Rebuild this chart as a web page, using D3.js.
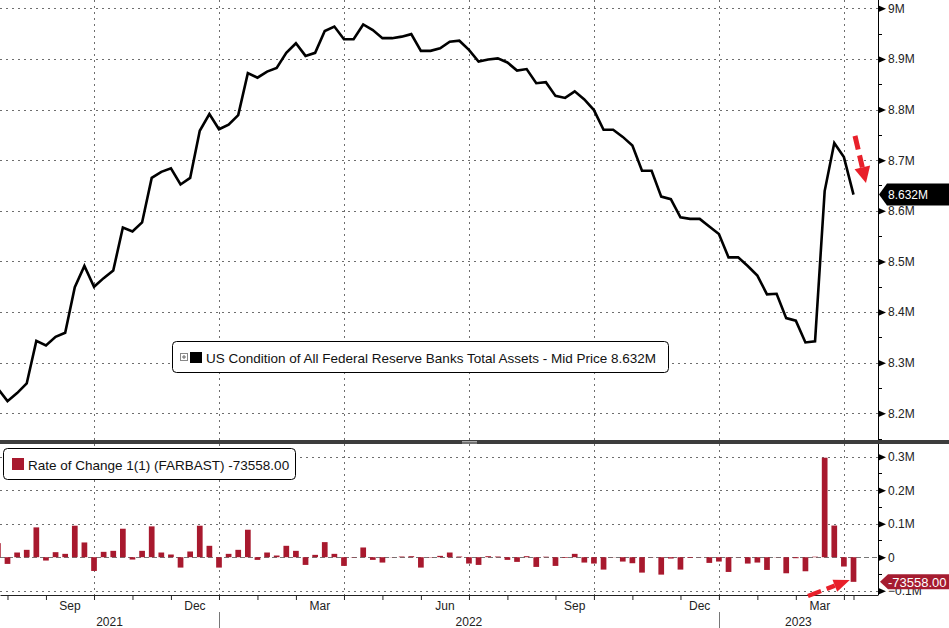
<!DOCTYPE html>
<html>
<head>
<meta charset="utf-8">
<script src="https://cdn.jsdelivr.net/npm/d3@7"></script>
<style>
  body { margin: 0; background: #fff; }
  svg { display: block; font-family: "Liberation Sans", Arial, sans-serif; }
</style>
</head>
<body>
<div id="chart"></div>
<script>
// weekly H.4.1 prints (Wednesdays), Jul 21 2021 .. Apr 5 2023
var firstWeek = new Date(2021, 6, 21), lastWeek = new Date(2023, 3, 5);

// total assets, millions of millions (M)
var assets = [8.249, 8.224, 8.240, 8.259, 8.343, 8.334, 8.351, 8.359, 8.449, 8.491,
  8.450, 8.467, 8.482, 8.567, 8.559, 8.577, 8.665, 8.677, 8.684, 8.652,
  8.665, 8.758, 8.791, 8.761, 8.770, 8.789, 8.872, 8.863, 8.875, 8.882,
  8.912, 8.931, 8.906, 8.912, 8.955, 8.964, 8.939, 8.939, 8.968, 8.957,
  8.941, 8.941, 8.944, 8.949, 8.916, 8.916, 8.921, 8.934, 8.936, 8.918,
  8.895, 8.899, 8.901, 8.893, 8.877, 8.880, 8.852, 8.854, 8.827, 8.823,
  8.836, 8.820, 8.799, 8.760, 8.760, 8.746, 8.729, 8.679, 8.679, 8.628,
  8.623, 8.587, 8.584, 8.584, 8.569, 8.554, 8.508, 8.508, 8.491, 8.472,
  8.435, 8.436, 8.388, 8.383, 8.340, 8.342, 8.639, 8.734, 8.706, 8.632];

// Rate of Change 1(1), week over week
var changes = [42000, -20000, 14000, 22000, 89000, -10000, 15000, 10000, 94000, 44000,
  -41000, 16000, 19000, 85000, -7000, 19000, 92000, 14000, 8000, -31000,
  17000, 94000, 34000, -31000, 10000, 22000, 82000, -8000, 14000, 5000,
  34000, 19000, -23000, 7000, 45000, 10000, -26000, -1000, 29000, -8000,
  -16000, -500, 2000, 3000, -31000, -1000, 4000, 14000, 2000, -19000,
  -23000, 3000, 2000, -8000, -14000, 3000, -29000, 1500, -26000, -2000,
  10000, -16000, -19000, -37000, -500, -13000, -18000, -46000, -500, -52000,
  -4000, -37000, -2000, 500, -17000, -13000, -44000, -500, -19000, -16000,
  -38000, 500, -48000, -3000, -42000, 1500, 297017, 94487, -27845, -73558];

var topTicks = [8.2, 8.3, 8.4, 8.5, 8.6, 8.7, 8.8, 8.9, 9.0];
var topMinor = [8.15, 8.25, 8.35, 8.45, 8.55, 8.65, 8.75, 8.85, 8.95];
var botTicks = [-100000, 0, 100000, 200000, 300000];
var botMinor = [-50000, 50000, 150000, 250000];
var labelMonths = ["Sep", "Dec", "Mar", "Jun"];

var assetsLegend = "US Condition of All Federal Reserve Banks Total Assets - Mid Price 8.632M";
var changeLegend = "Rate of Change 1(1) (FARBAST) -73558.00";
var lastAssetText = "8.632M", lastChangeText = "-73558.00";

// hand-drawn red arrows, in data space
var arrowTop = { from: [new Date(2023, 3, 6, 2), 8.748], to: [new Date(2023, 3, 14, 2), 8.655] };
var arrowBot = { from: [new Date(2023, 2, 2, 20), -115800], to: [new Date(2023, 3, 2, 7), -68000] };

var dates = d3.timeWednesday.range(firstWeek, d3.timeDay.offset(lastWeek, 1));
var data = dates.map(function(d, i) { return { date: d, v: assets[i], c: changes[i] }; });

var W = 949, H = 628, plotR = 878;
var topP = { y0: 0, y1: 440 }, botP = { y0: 444, y1: 595 };
var red = "#a8192e", arrowRed = "#e8202a";

var svg = d3.select("#chart").append("svg").attr("width", W).attr("height", H);

var x = d3.scaleTime()
    .domain([new Date(2021, 6, 22, 13), new Date(2023, 3, 22, 20)])
    .range([0, plotR]);
var yTop = d3.scaleLinear().domain([8.2, 9.0]).range([413.3, 8.3]);
var yBot = d3.scaleLinear().domain([-100000, 300000]).range([590.7, 456.7]);

// Bloomberg marks periods at the last print of each month
var monthEnds = Array.from(d3.rollup(dates, function(v) { return d3.max(v); },
    function(d) { return +d3.timeMonth(d); }).values());
var quarterEnds = monthEnds.filter(function(d) { return d.getMonth() % 3 === 2; });
var yearEnds = monthEnds.filter(function(d) { return d.getMonth() === 11; });

var defs = svg.append("defs");
defs.append("clipPath").attr("id", "clipTop").append("rect")
    .attr("x", 0).attr("y", topP.y0).attr("width", plotR).attr("height", topP.y1 - topP.y0);
defs.append("clipPath").attr("id", "clipBot").append("rect")
    .attr("x", 0).attr("y", botP.y0).attr("width", plotR).attr("height", botP.y1 - botP.y0);

// grids
var grid = svg.append("g").attr("stroke", "#6e6e6e").attr("stroke-width", 1)
    .attr("stroke-dasharray", "2,4");
grid.selectAll(".gt").data(topTicks).enter().append("line")
    .attr("x1", 0).attr("x2", plotR)
    .attr("y1", function(d) { return Math.round(yTop(d)) + 0.5; })
    .attr("y2", function(d) { return Math.round(yTop(d)) + 0.5; });
grid.selectAll(".gb").data(botTicks.filter(function(d) { return d !== 0; })).enter().append("line")
    .attr("x1", 0).attr("x2", plotR)
    .attr("y1", function(d) { return Math.round(yBot(d)) + 0.5; })
    .attr("y2", function(d) { return Math.round(yBot(d)) + 0.5; });
grid.selectAll(".gv").data(quarterEnds).enter().append("line")
    .attr("x1", function(d) { return Math.round(x(d)) + 0.5; })
    .attr("x2", function(d) { return Math.round(x(d)) + 0.5; })
    .attr("y1", 0).attr("y2", botP.y1);

svg.append("line")
    .attr("x1", 0).attr("x2", plotR)
    .attr("y1", Math.round(yBot(0)) + 0.5).attr("y2", Math.round(yBot(0)) + 0.5)
    .attr("stroke", "#777").attr("stroke-dasharray", "5,3");

// line
svg.append("path").datum(data)
    .attr("clip-path", "url(#clipTop)")
    .attr("fill", "none").attr("stroke", "#000").attr("stroke-width", 2.6)
    .attr("stroke-linejoin", "miter")
    .attr("d", d3.line().x(function(d) { return x(d.date); }).y(function(d) { return yTop(d.v); }));

// bars
var bw = 5.7;
svg.append("g").attr("clip-path", "url(#clipBot)")
  .selectAll("rect").data(data).enter().append("rect")
    .attr("fill", red)
    .attr("x", function(d) { return x(d.date) - bw / 2; })
    .attr("width", bw)
    .attr("y", function(d) { return Math.min(yBot(d.c), yBot(0)); })
    .attr("height", function(d) { return Math.abs(yBot(d.c) - yBot(0)); });

// panel divider
svg.append("rect").attr("x", 0).attr("y", 440).attr("width", W).attr("height", 4).attr("fill", "#3d3d3d");
svg.append("g").attr("stroke", "#aaa").selectAll("line").data([441.5, 443]).enter().append("line")
    .attr("x1", 462).attr("x2", 477).attr("y1", function(d) { return d; }).attr("y2", function(d) { return d; });

// right axes
function rightAxis(scale, ticks, minor, fmt, y0, y1) {
  var g = svg.append("g").attr("transform", "translate(" + plotR + ",0)");
  g.call(d3.axisRight(scale).tickValues(ticks).tickFormat(fmt).tickSize(0).tickPadding(10));
  g.select(".domain").remove();
  g.selectAll(".tick text").attr("fill", "#222").style("font-size", "12px")
      .style("font-family", "'Liberation Sans', Arial, sans-serif").attr("x", 10);
  g.append("line").attr("x1", 0.5).attr("x2", 0.5).attr("y1", y0).attr("y2", y1).attr("stroke", "#000");
  g.selectAll(".tick").append("path").attr("d", "M0,-3.5L8,0L0,3.5Z").attr("fill", "#000");
  g.selectAll(".mn").data(minor).enter().append("line")
      .attr("x1", 0).attr("x2", 4)
      .attr("y1", function(d) { return Math.round(scale(d)) + 0.5; })
      .attr("y2", function(d) { return Math.round(scale(d)) + 0.5; })
      .attr("stroke", "#000");
  return g;
}
rightAxis(yTop, topTicks, topMinor, function(d) { return d3.format("~g")(d) + "M"; }, 0, 440);
rightAxis(yBot, botTicks, botMinor, function(d) { return d === 0 ? "0" : d3.format("~g")(d / 1e6) + "M"; }, 444, botP.y1);

// bottom time axis
var xg = svg.append("g").attr("transform", "translate(0," + botP.y1 + ")");
xg.call(d3.axisBottom(x).tickValues(monthEnds).tickSize(5).tickSizeOuter(0).tickFormat(""));
xg.select(".domain").attr("stroke", "#222");
xg.selectAll(".tick line").attr("stroke", "#222");

var monthLab = [];
for (var i = 1; i < monthEnds.length; i++) {
  var name = d3.timeFormat("%b")(monthEnds[i]);
  if (labelMonths.indexOf(name) >= 0) monthLab.push({ name: name, x: (x(monthEnds[i - 1]) + x(monthEnds[i])) / 2 });
}
svg.append("g").selectAll("text").data(monthLab).enter().append("text")
    .attr("x", function(d) { return d.x; }).attr("y", 610)
    .attr("text-anchor", "middle").attr("font-size", 12).attr("fill", "#222")
    .text(function(d) { return d.name; });

var bounds = [0].concat(yearEnds.map(function(d) { return x(d); })).concat([plotR]);
var years = ["2021", "2022", "2023"];
svg.append("g").selectAll("text").data(years).enter().append("text")
    .attr("x", function(d, i) { return (bounds[i] + bounds[i + 1]) / 2; }).attr("y", 626)
    .attr("text-anchor", "middle").attr("font-size", 12).attr("fill", "#222")
    .text(function(d) { return d; });
svg.append("g").selectAll("line").data(yearEnds).enter().append("line")
    .attr("x1", function(d) { return Math.round(x(d)) + 0.5; })
    .attr("x2", function(d) { return Math.round(x(d)) + 0.5; })
    .attr("y1", 612).attr("y2", H).attr("stroke", "#777");

// last value tags
var yl = yTop(assets[assets.length - 1]);
svg.append("path")
    .attr("d", "M" + (plotR + 1) + "," + yl + "L" + (plotR + 9) + "," + (yl - 11) + "L" + W + "," + (yl - 11) +
      "L" + W + "," + (yl + 11) + "L" + (plotR + 9) + "," + (yl + 11) + "Z")
    .attr("fill", "#000");
svg.append("text").attr("x", plotR + 10).attr("y", yl).attr("dy", "0.36em")
    .attr("font-size", 12).attr("fill", "#fff").text(lastAssetText);

var yc = yBot(changes[changes.length - 1]);
svg.append("path")
    .attr("d", "M" + (plotR + 2) + "," + yc + "L" + (plotR + 10) + "," + (yc - 7.5) + "L" + W + "," + (yc - 7.5) +
      "L" + W + "," + (yc + 7.5) + "L" + (plotR + 10) + "," + (yc + 7.5) + "Z")
    .attr("fill", "#a51c30");
svg.append("text").attr("x", plotR + 10).attr("y", yc).attr("dy", "0.36em")
    .attr("font-size", 13).attr("fill", "#fff").text(lastChangeText);

// legends
var lg1 = svg.append("g");
lg1.append("rect").attr("x", 172.5).attr("y", 341.5).attr("width", 496).attr("height", 31).attr("rx", 4)
    .attr("fill", "#fff").attr("stroke", "#000");
lg1.append("rect").attr("x", 180.5).attr("y", 353.5).attr("width", 7).attr("height", 7)
    .attr("fill", "#fff").attr("stroke", "#888");
lg1.append("path").attr("d", "M182,357H186M184,355V359").attr("stroke", "#666");
lg1.append("rect").attr("x", 190).attr("y", 352).attr("width", 12).attr("height", 11).attr("fill", "#000");
lg1.append("text").attr("x", 206).attr("y", 363).attr("font-size", 13.5).attr("fill", "#111").text(assetsLegend);

var lg2 = svg.append("g");
lg2.append("rect").attr("x", 3.5).attr("y", 448.5).attr("width", 292).attr("height", 31).attr("rx", 4)
    .attr("fill", "#fff").attr("stroke", "#000");
lg2.append("rect").attr("x", 12).attr("y", 458).attr("width", 12).attr("height", 12).attr("fill", red);
lg2.append("text").attr("x", 28).attr("y", 470).attr("font-size", 13.5).attr("fill", "#111").text(changeLegend);

// arrows
function arrow(a, ys, width, headLen, headHalf) {
  var x0 = x(a.from[0]), y0 = ys(a.from[1]), x1 = x(a.to[0]), y1 = ys(a.to[1]);
  var dx = x1 - x0, dy = y1 - y0, len = Math.sqrt(dx * dx + dy * dy);
  var ux = dx / len, uy = dy / len;
  var bx = x1 - ux * headLen, by = y1 - uy * headLen;
  svg.append("line").attr("x1", x0).attr("y1", y0).attr("x2", bx).attr("y2", by)
      .attr("stroke", arrowRed).attr("stroke-width", width).attr("stroke-dasharray", "14,6");
  svg.append("path")
      .attr("d", "M" + x1 + "," + y1 + "L" + (bx - uy * headHalf) + "," + (by + ux * headHalf) +
        "L" + (bx + uy * headHalf) + "," + (by - ux * headHalf) + "Z")
      .attr("fill", arrowRed);
}
arrow(arrowTop, yTop, 5, 16, 8);
arrow(arrowBot, yBot, 4.5, 16, 6.5);
</script>
</body>
</html>
